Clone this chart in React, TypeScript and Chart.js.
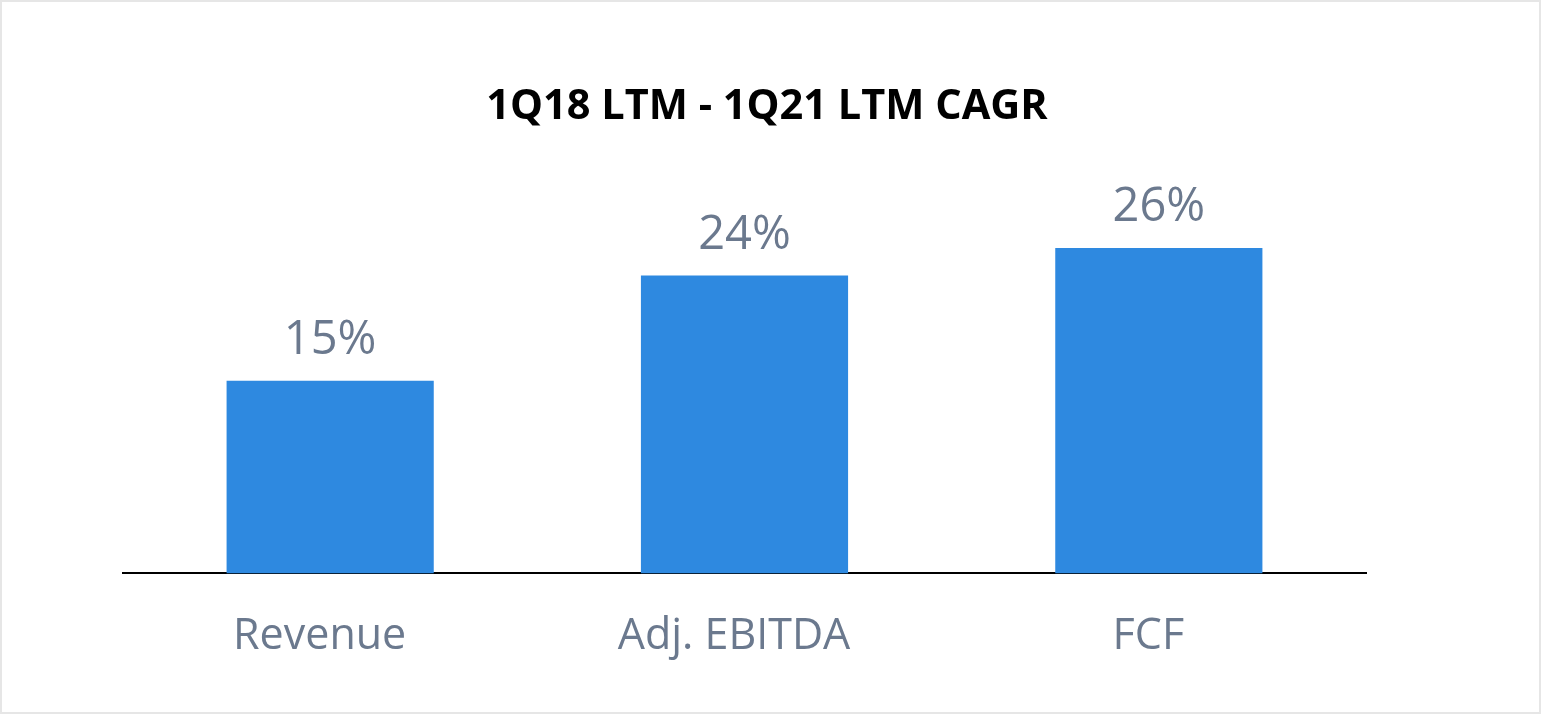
import React, { useEffect, useRef } from "react";
import { Chart, registerables } from "chart.js";

Chart.register(...registerables);

const categories: string[] = ["Revenue", "Adj. EBITDA", "FCF"];
const cagrValues: number[] = [15.4, 23.8, 26.0];
const chartTitle = "1Q18 LTM - 1Q21 LTM CAGR";

const W = 1541;
const H = 714;
const FONT = "'Open Sans', 'Noto Sans', sans-serif";
const GRAY = "#6b798e";
const BLUE = "#2e89e0";

const valueLabels = {
  id: "valueLabels",
  afterDatasetsDraw(chart: any) {
    const ctx = chart.ctx;
    const meta = chart.getDatasetMeta(0);
    const data = chart.data.datasets[0].data as number[];
    ctx.save();
    ctx.font = `47px ${FONT}`;
    ctx.fillStyle = GRAY;
    ctx.textAlign = "center";
    ctx.textBaseline = "alphabetic";
    meta.data.forEach((bar: any, i: number) => {
      ctx.fillText(`${Math.round(data[i])}%`, bar.x, bar.y - 27);
    });
    ctx.restore();
  },
};

const centeredTitle = {
  id: "centeredTitle",
  afterDraw(chart: any) {
    const ctx = chart.ctx;
    ctx.save();
    ctx.font = `bold 41.5px ${FONT}`;
    ctx.fillStyle = "#000000";
    ctx.textAlign = "center";
    ctx.textBaseline = "middle";
    ctx.fillText(chartTitle, 767, 107.5);
    ctx.restore();
  },
};

export default function App() {
  const ref = useRef<HTMLCanvasElement | null>(null);

  useEffect(() => {
    document.body.style.margin = "0";
    if (!ref.current) return;
    const chart = new Chart(ref.current, {
      type: "bar",
      data: {
        labels: categories,
        datasets: [
          {
            data: cagrValues,
            backgroundColor: BLUE,
            borderWidth: 0,
            categoryPercentage: 1,
            barPercentage: 0.5,
          },
        ],
      },
      options: {
        animation: false,
        responsive: false,
        maintainAspectRatio: false,
        devicePixelRatio: 1,
        layout: { padding: { left: 123, right: 175, top: 198, bottom: 13 } },
        plugins: {
          legend: { display: false },
          tooltip: { enabled: false },
          title: { display: false },
        },
        scales: {
          x: {
            grid: { display: false, drawTicks: false },
            border: { display: true, color: "#000000", width: 2 },
            ticks: {
              color: GRAY,
              font: { family: FONT, size: 43 },
              padding: 38,
              labelOffset: -10.5,
            },
          },
          y: {
            display: false,
            min: 0,
            max: 30,
          },
        },
      },
      plugins: [valueLabels, centeredTitle],
    });
    return () => chart.destroy();
  }, []);

  return (
    <div style={{ position: "fixed", left: 0, top: 0, width: W, height: H, background: "#ffffff" }}>
      <canvas ref={ref} width={W} height={H} style={{ position: "absolute", left: 0, top: 0, width: W, height: H }} />
      <div
        style={{
          position: "absolute",
          left: 0,
          top: 0,
          width: W,
          height: H,
          boxSizing: "border-box",
          border: "2px solid #e6e6e6",
          pointerEvents: "none",
        }}
      />
    </div>
  );
}
